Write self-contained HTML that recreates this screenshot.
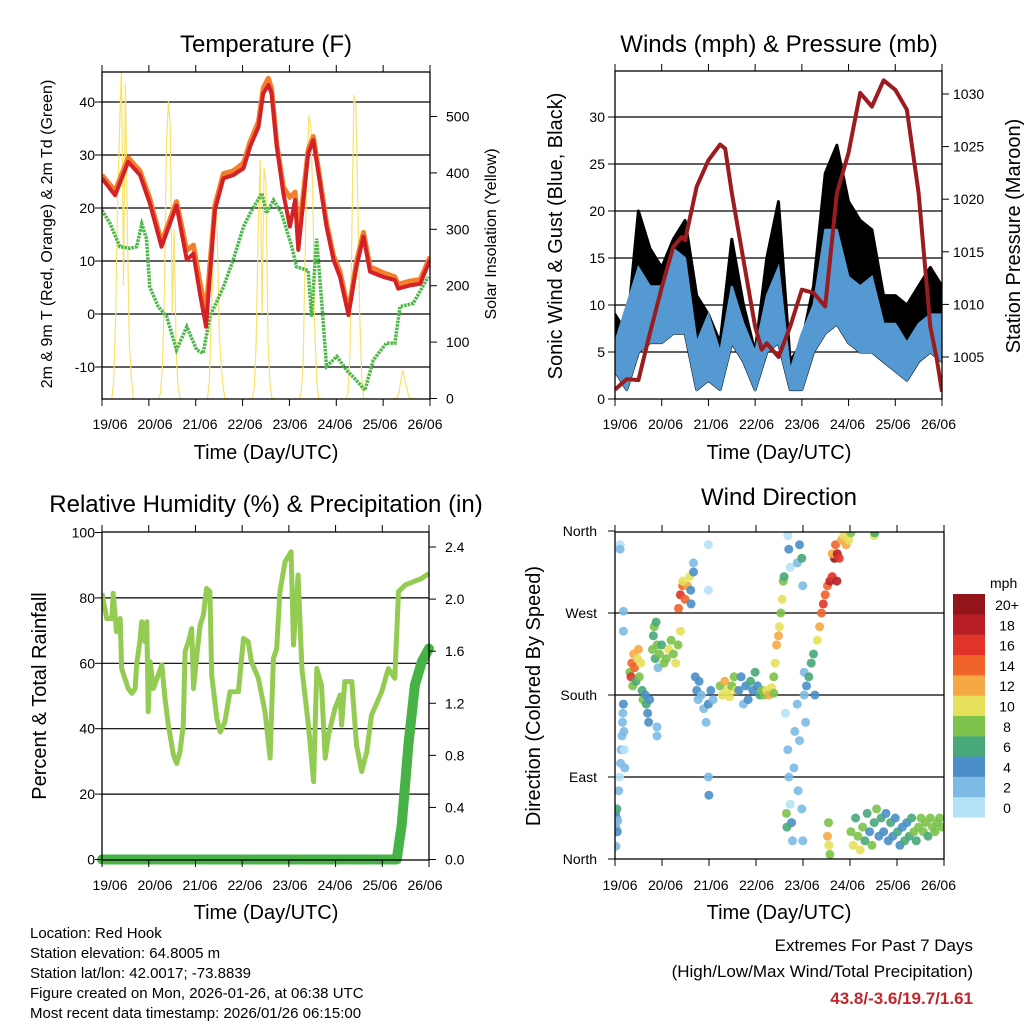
<!DOCTYPE html>
<html><head><meta charset="utf-8"><style>
html,body{margin:0;padding:0;background:#fff}
svg{display:block;font-family:"Liberation Sans",Arial,sans-serif}
</style></head><body>
<svg id="chart" width="1024" height="1024" viewBox="0 0 1024 1024" xmlns="http://www.w3.org/2000/svg">
<defs>
<clipPath id="c1"><rect x="102" y="72" width="328" height="327"/></clipPath>
<clipPath id="c2"><rect x="615" y="71" width="327" height="328"/></clipPath>
<clipPath id="c3"><rect x="102" y="532" width="327" height="328"/></clipPath>
<clipPath id="c4"><rect x="615" y="532" width="329" height="327"/></clipPath>
</defs>
<g id="g1"></g>
<g id="g2"></g>
<g id="g3"></g>
<g id="g4"></g>
<g id="txt" font-size="15" fill="#000">
<text x="30" y="938">Location: Red Hook</text>
<text x="30" y="958">Station elevation: 64.8005 m</text>
<text x="30" y="978">Station lat/lon: 42.0017; -73.8839</text>
<text x="30" y="998">Figure created on Mon, 2026-01-26, at 06:38 UTC</text>
<text x="30" y="1018">Most recent data timestamp: 2026/01/26 06:15:00</text>
<text x="973" y="951" text-anchor="end" font-size="17">Extremes For Past 7 Days</text>
<text x="973" y="977" text-anchor="end" font-size="17">(High/Low/Max Wind/Total Precipitation)</text>
<text x="973" y="1004" text-anchor="end" font-size="17" font-weight="bold" fill="#c0282d">43.8/-3.6/19.7/1.61</text>
</g>
</svg>
<script>
// ---------- DATA ----------
const dayLabels = ["19/06","20/06","21/06","22/06","23/06","24/06","25/06","26/06"];
// Temperature
const tTimes = [0,.28,.56,.81,1.02,1.27,1.59,1.81,1.95,2.09,2.22,2.41,2.59,2.80,3.02,3.16,3.34,3.44,3.55,3.62,3.73,3.87,4.01,4.12,4.19,4.30,4.40,4.51,4.62,4.79,4.94,5.08,5.26,5.43,5.58,5.72,6.00,6.25,6.32,6.57,6.79,7.0];
const temp2m = [25.6,22.4,28.7,26.2,20.9,12.7,20.5,10.2,11.4,3.9,-2.4,19.6,25.6,26.2,27.5,31.6,35.3,41.6,43.2,41.6,31.6,22.8,16.5,21.5,12.1,21.5,30.3,32.8,26.5,16.5,10.2,7.0,-0.2,8.9,14.6,8.0,7.0,6.4,4.8,5.4,5.7,10.2];
const temp9m = [26.2,23.2,29.5,27.0,21.8,13.5,21.2,12.0,13.0,6.0,0.5,20.5,26.5,27.0,28.5,32.5,36.3,42.6,44.5,42.5,32.0,24.0,22.0,23.0,14.0,23.0,31.0,33.5,27.2,17.2,11.0,8.0,0.5,9.8,15.4,8.9,7.8,7.0,5.6,6.2,6.5,10.8];
const tdTimes = [0,.17,.38,.60,.74,.85,.95,1.02,1.20,1.38,1.59,1.81,2.02,2.16,2.30,2.59,2.80,3.02,3.16,3.41,3.51,3.66,3.83,4.05,4.15,4.40,4.47,4.58,4.69,4.79,5.01,5.22,5.43,5.61,5.79,6.07,6.25,6.36,6.64,6.96];
const dewpoint = [19.6,17.1,12.7,12.4,12.7,17.0,14.2,5.1,1.4,-0.5,-6.8,-2.4,-6.8,-7.4,-0.5,5.1,10.2,16.5,19.0,22.8,19.0,21.5,19.0,12.7,8.9,8.2,-0.5,14.2,2.0,-9.9,-8.0,-10.6,-12.5,-14.4,-8.7,-5.5,-5.5,1.4,2.0,7.0];
// Solar, hourly values for hours 5..17 of each day
const solarHours = [5,6,7,8,9,10,11,12,13,14,15,16,17];
const solarDay0 = [0,30,150,350,480,590,200,560,300,100,40,0,0];
const solarDay1 = [0,10,60,200,450,527,480,150,300,80,20,0,0];
const solarDay2 = [0,0,30,150,250,357,300,120,60,20,0,0,0];
const solarDay3 = [0,20,100,300,423,150,410,380,100,30,0,0,0];
const solarDay4 = [0,10,60,250,420,502,480,350,120,30,0,0,0];
const solarDay5 = [0,10,80,300,538,520,350,150,40,0,0,0,0];
const solarDay6 = [0,0,0,10,30,50,35,20,5,0,0,0,0];
// Winds
const windTimes = [0,.25,.5,.75,1,1.25,1.5,1.75,2,2.25,2.5,2.75,3,3.25,3.5,3.75,4,4.25,4.5,4.75,5,5.25,5.5,5.75,6,6.25,6.5,6.75,7];
const gustHigh = [9,7,20,16,14,17,19,11,9,6,17,10,5,15,21,4,6,12,24,27,21,19,18,11,11,10,12,14,12];
const windHigh = [6,10,14,12,12,16,15,6,9,5,12,8,5,11,14,3,7,10,18,18,13,12,13,8,8,6,8,9,9];
const windLow = [3,1,5,6,6,7,7,1,2,1,6,4,1,5,6,1,1,5,7,8,6,5,5,4,3,2,4,5,4];
const presTimes = [0,.25,.5,.75,1,1.25,1.43,1.5,1.75,2,2.25,2.36,2.5,2.75,3,3.14,3.25,3.5,3.75,4,4.25,4.5,4.75,5,5.25,5.5,5.75,6,6.25,6.5,6.75,6.89,7];
const pressure = [1001.9,1002.9,1002.8,1007.3,1011.6,1015.5,1016.4,1016.1,1021.2,1023.7,1025.2,1024.8,1020.6,1014.2,1007.9,1005.7,1006.3,1005.0,1007.9,1011.4,1011.1,1009.8,1020.6,1024.4,1030.1,1028.8,1031.3,1030.4,1028.5,1020.6,1007.9,1004.8,1001.7];
// Humidity & precip
const rhTimes = [0,.1,.21,.24,.31,.39,.42,.56,.64,.71,.74,.81,.85,.92,.96,.99,1.03,1.10,1.28,1.35,1.42,1.53,1.60,1.67,1.74,1.78,1.85,1.92,1.96,2.03,2.10,2.17,2.24,2.31,2.35,2.46,2.53,2.63,2.74,2.92,3.03,3.13,3.20,3.35,3.49,3.56,3.60,3.67,3.74,3.81,3.92,4.05,4.10,4.20,4.28,4.42,4.53,4.60,4.70,4.78,4.85,4.99,5.10,5.13,5.20,5.35,5.45,5.56,5.67,5.77,5.99,6.13,6.27,6.35,6.49,6.85,7.0];
const rhValues = [81.4,73.7,73.7,81.4,69.7,73.7,58.4,52.3,50.8,52.3,59.5,66.6,72.7,66.6,72.7,45.2,60.5,52.3,59.5,49.3,41.1,31.9,29.4,33.0,41.1,63.6,66.6,70.6,52.3,62.5,71.6,74.7,82.9,81.9,56.4,43.0,39.0,42.0,51.3,51.3,67.6,66.6,60.5,55.4,45.2,36.1,31.0,61.5,64.5,81.9,91.1,94.1,65.6,87.0,58.4,41.1,23.8,58.4,53.3,31.0,38.1,46.2,50.3,41.1,54.4,54.4,35.0,26.9,33.0,44.2,51.3,58.4,55.4,81.9,83.9,86.0,87.5];
const precipTimes = [0,6.31,6.42,6.56,6.70,6.85,7.0];
const precipValues = [0,0,0.27,0.88,1.34,1.52,1.62];
// Wind direction scatter
const dirTimes = [0,.01,.02,.03,.04,.05,.06,.02,.08,.1,.12,.13,.15,.16,.17,.18,.19,.2,.21,.11,.11,.32,.34,.36,.38,.4,.42,.45,.48,.5,.52,.55,.58,.6,.18,.18,.65,.67,.7,.72,.74,.8,.82,.84,.86,.88,.9,.92,.9,.9,.95,1.0,1.05,1.1,1.15,1.2,1.25,1.3,1.35,1.4,1.36,1.4,1.45,1.5,1.55,1.6,1.62,1.63,1.45,1.68,1.68,1.72,1.75,1.78,1.8,1.85,1.9,1.95,2.0,2.05,2.1,2.0,2.01,2.0,2.0,2.25,2.3,2.35,2.4,2.45,2.5,2.55,2.6,2.65,2.7,2.75,2.8,2.85,2.9,2.95,3.0,3.05,3.1,3.15,3.2,3.25,3.3,3.35,3.4,3.4,3.43,3.46,3.5,3.52,3.55,3.58,3.6,3.62,3.65,3.7,3.72,3.75,3.78,3.8,3.83,3.85,3.9,3.92,3.95,4.0,4.02,4.05,4.08,3.68,3.67,3.7,3.72,3.75,3.9,3.95,4.0,4.02,4.05,4.1,4.15,4.2,4.25,4.28,4.33,4.38,4.42,4.46,4.5,4.55,4.6,4.65,4.7,4.75,4.65,4.72,4.76,4.8,4.85,4.9,4.95,5.0,5.05,5.55,5.56,4.55,4.57,4.58,4.6,5.05,5.1,5.15,5.2,5.25,5.3,5.35,5.4,5.45,5.5,5.55,5.6,5.65,5.7,5.75,5.8,5.85,5.9,5.95,6.0,6.05,6.1,6.15,6.2,6.25,6.3,6.35,6.4,6.45,6.5,6.55,6.6,6.65,6.7,6.75,6.8,6.85,6.9,6.95,7.0];
const dirDegrees = [40,50,35,45,55,30,42,14,75,90,105,120,135,150,160,170,140,120,100,345,340,205,200,215,190,225,210,195,220,230,200,215,185,175,272,250,180,170,160,150,175,230,245,255,220,260,235,210,145,135,225,235,215,220,230,240,225,215,235,250,275,290,300,285,300,310,295,280,305,315,325,200,185,175,195,180,165,150,170,185,175,90,70,295,345,190,180,195,185,178,190,200,185,185,200,170,190,175,195,185,205,190,180,185,180,185,180,188,182,200,215,235,245,255,270,285,305,310,160,120,90,60,40,20,100,140,170,75,130,55,20,180,150,35,50,355,340,320,325,345,330,300,205,190,200,215,225,180,240,255,270,280,290,300,305,310,330,305,335,345,335,330,350,355,345,350,358,355,358,25,40,15,5,30,15,45,25,10,35,20,50,30,15,40,55,25,45,30,50,20,40,25,45,30,15,35,20,40,25,45,30,20,35,45,30,40,25,45,35,30,40,45,35];
const dirSpeeds = [4,4,3,4,6,4,3,3,2,1,2,2,3,2,3,4,3,1,2,1,2,9,16,14,8,12,15,6,10,12,8,10,6,8,3,2,4,6,4,4,5,8,6,8,6,7,9,3,2,2,8,7,9,8,10,9,8,10,9,10,14,16,14,15,12,10,4,4,10,4,3,4,4,2,4,2,2,2,4,4,2,2,4,1,1,8,11,12,10,11,9,8,10,4,4,3,4,4,6,4,6,4,6,8,8,10,12,10,8,8,10,12,12,10,8,10,8,6,1,2,3,1,4,2,2,2,2,3,2,2,3,3,2,6,8,1,4,1,2,4,6,2,2,5,6,7,6,5,10,12,14,16,14,15,18,17,20,18,12,15,18,16,12,10,12,10,9,10,6,12,9,10,8,8,10,6,9,10,8,6,6,4,8,6,8,4,6,4,4,4,6,4,4,6,4,4,6,4,6,6,8,6,8,8,8,8,6,8,8,8,8,8,8,8];
const speedLabels = ["0","2","4","6","8","10","12","14","16","18","20+"];
const speedColors = ["#b5e2f7","#7dbae4","#4a8fc8","#48a878","#7cc24b","#e7e05a","#f6a844","#f0632b","#e0342b","#b91d25","#911519"];

// ---------- HELPERS ----------
const NS = "http://www.w3.org/2000/svg";
function el(parent, tag, attrs, text){
  const e = document.createElementNS(NS, tag);
  for (const k in attrs) e.setAttribute(k, attrs[k]);
  if (text !== undefined) e.textContent = text;
  parent.appendChild(e);
  return e;
}
function pathFrom(xs, ys, fx, fy){
  let d = "";
  for (let i=0;i<xs.length;i++) d += (i?"L":"M") + fx(xs[i]).toFixed(1) + "," + fy(ys[i]).toFixed(1);
  return d;
}
function frame(g, x0, y0, x1, y1, name){
  const r = el(g, "rect", {x:x0, y:y0, width:x1-x0, height:y1-y0, fill:"none", stroke:"#000", "stroke-width":1.3});
  
  
}
function hgrid(g, x0, x1, y){
  const l = el(g, "line", {x1:x0, x2:x1, y1:y, y2:y, stroke:"#000", "stroke-width":1.2});
  
  
}
function xaxis(g, x0, w, y0, y1, labelStart, labelStep, ly){
  for (let i=0;i<8;i++){
    const x = x0 + i*w/7;
    el(g, "line", {x1:x, x2:x, y1:y1, y2:y1+7, stroke:"#000", "stroke-width":1});
    el(g, "line", {x1:x, x2:x, y1:y0-7, y2:y0, stroke:"#000", "stroke-width":1});
    const t = el(g, "text", {x:labelStart+i*labelStep, y:ly, "text-anchor":"middle", "font-size":14}, dayLabels[i]);
    
    
  }
}
function ylabels(g, vals, fy, x, anchor, fmt, tickX, tickDir){
  vals.forEach(v=>{
    const y = fy(v);
    el(g, "line", {x1:tickX, x2:tickX+tickDir*7, y1:y, y2:y, stroke:"#000", "stroke-width":1});
    const t = el(g, "text", {x:x, y:y+5, "text-anchor":anchor, "font-size":14}, fmt(v));
    
    
  });
}
function title(g, x, y, s, size, name, rot){
  const a = {x:x, y:y, "text-anchor":"middle", "font-size":size};
  if (rot) a.transform = "rotate(-90 "+x+" "+y+")";
  const t = el(g, "text", a, s);
  
  
}

// ---------- PANEL 1 ----------
(function(){
  const g = document.getElementById("g1");
  const fx = d => 102 + d*46.86, fT = v => 314 - v*5.3, fS = v => 398.5 - v*0.564;
  [40,30,20,10,0,-10].forEach(v=>hgrid(g,102,430,fT(v)));
  const c = el(g, "g", {"clip-path":"url(#c1)"});
  const solarDays = [solarDay0,solarDay1,solarDay2,solarDay3,solarDay4,solarDay5,solarDay6];
  solarDays.forEach((arr,di)=>{
    const ts = solarHours.map(h=>di + h/24);
    const p = el(c, "path", {d:pathFrom(ts, arr, fx, fS), fill:"none", stroke:"#f7e36a", "stroke-width":1.2});
    
    
  });
  const pd = el(c, "path", {d:pathFrom(tdTimes, dewpoint, fx, fT), fill:"none", stroke:"#4cb848", "stroke-width":3.5, "stroke-dasharray":"2.5 1"});
  
  
  const po = el(c, "path", {d:pathFrom(tTimes, temp9m, fx, fT), fill:"none", stroke:"#f47f2a", "stroke-width":5, "stroke-linejoin":"round"});
  
  
  const pr = el(c, "path", {d:pathFrom(tTimes, temp2m, fx, fT), fill:"none", stroke:"#d42027", "stroke-width":4, "stroke-linejoin":"round"});
  
  
  frame(g,102,72,430,399,'temperature-plot-frame');
  xaxis(g,102,328,72,399,110,45,429);
  ylabels(g,[40,30,20,10,0,-10],fT,95,"end",v=>String(v),102,-1);
  ylabels(g,[0,100,200,300,400,500],fS,446,"start",v=>String(v),430,1);
  title(g,266,52,"Temperature (F)",24,"temperature-title");
  title(g,266,459,"Time (Day/UTC)",20,"temperature-x-title");
  title(g,52,234,"2m & 9m T (Red, Orange) & 2m Td (Green)",16,"temperature-y-title",true);
  title(g,496,234,"Solar Insolation (Yellow)",16,"solar-y-title",true);
})();

// ---------- PANEL 2 ----------
(function(){
  const g = document.getElementById("g2");
  const fx = d => 615 + d*46.71, fW = v => 399 - v*9.4, fP = v => 357 - (v-1005)*10.52;
  [5,10,15,20,25,30].forEach(v=>hgrid(g,615,942,fW(v)));
  const c = el(g, "g", {"clip-path":"url(#c2)"});
  let top = pathFrom(windTimes, gustHigh, fx, fW);
  let bot = ""; for (let i=windTimes.length-1;i>=0;i--) bot += "L"+fx(windTimes[i]).toFixed(1)+","+fW(windLow[i]).toFixed(1);
  const gp = el(c, "path", {d:top+bot+"Z", fill:"#000", stroke:"#000", "stroke-width":3, "stroke-linejoin":"round"});
  
  
  let wt = pathFrom(windTimes, windHigh, fx, fW);
  const wp = el(c, "path", {d:wt+bot+"Z", fill:"#5499d2", stroke:"#5499d2", "stroke-width":2});
  
  
  const pp = el(c, "path", {d:pathFrom(presTimes, pressure, fx, fP), fill:"none", stroke:"#9b1c1f", "stroke-width":4, "stroke-linejoin":"round"});
  
  
  frame(g,615,71,942,399,'wind-plot-frame');
  xaxis(g,615,327,71,399,620,45.5,429);
  ylabels(g,[0,5,10,15,20,25,30],fW,605,"end",v=>String(v),615,-1);
  ylabels(g,[1005,1010,1015,1020,1025,1030],fP,953,"start",v=>String(v),942,1);
  title(g,779,52,"Winds (mph) & Pressure (mb)",24,"wind-title");
  title(g,779,459,"Time (Day/UTC)",20,"wind-x-title");
  title(g,562,236,"Sonic Wind & Gust (Blue, Black)",20,"wind-y-title",true);
  title(g,1020,236,"Station Pressure (Maroon)",20,"pressure-y-title",true);
})();

// ---------- PANEL 3 ----------
(function(){
  const g = document.getElementById("g3");
  const fx = d => 102 + d*46.7, fR = v => 859.5 - v*3.27, fPr = v => 859.5 - v*130.2;
  [20,40,60,80].forEach(v=>hgrid(g,102,429,fR(v)));
  const c = el(g, "g", {"clip-path":"url(#c3)"});
  const rp = el(c, "path", {d:pathFrom(rhTimes, rhValues, fx, fR), fill:"none", stroke:"#94cb52", "stroke-width":5, "stroke-linejoin":"round"});
  
  
  const pp = el(g, "path", {d:pathFrom(precipTimes, precipValues, fx, fPr), fill:"none", stroke:"#47b347", "stroke-width":10, "stroke-linecap":"round", "stroke-linejoin":"round"});
  
  
  frame(g,102,532,429,860,'humidity-plot-frame');
  xaxis(g,102,327,532,860,110,45,890);
  ylabels(g,[0,20,40,60,80,100],fR,95,"end",v=>String(v),102,-1);
  ylabels(g,[0,0.4,0.8,1.2,1.6,2.0,2.4],fPr,445,"start",v=>v.toFixed(1),429,1);
  title(g,266,512,"Relative Humidity (%) & Precipitation (in)",24,"humidity-title");
  title(g,266,919,"Time (Day/UTC)",20,"humidity-x-title");
  title(g,46,696,"Percent & Total Rainfall",20,"humidity-y-title",true);
})();

// ---------- PANEL 4 ----------
(function(){
  const g = document.getElementById("g4");
  const fx = d => 615 + d*46.71, fD = v => 859 - v*0.9111;
  [90,180,270].forEach(v=>hgrid(g,615,944,fD(v)));
  const c = el(g, "g", {"clip-path":"url(#c4)"});
  for (let i=0;i<dirTimes.length;i++){
    const idx = Math.min(10, Math.floor(dirSpeeds[i]/2));
    const p = el(c, "circle", {cx:fx(dirTimes[i]).toFixed(1), cy:fD(dirDegrees[i]).toFixed(1), r:4.5, fill:speedColors[idx], "fill-opacity":0.9});
    
    
  }
  frame(g,615,532,944,859,'direction-plot-frame');
  xaxis(g,615,329,532,859,620,45.5,890);
  const dirNames = ["North","East","South","West","North"];
  [0,90,180,270,360].forEach((v,i)=>{
    const y = fD(v);
    el(g,"line",{x1:615,x2:608,y1:y,y2:y,stroke:"#000"});
    const t = el(g,"text",{x:597,y:y+5,"text-anchor":"end","font-size":14},dirNames[i]);
    
    
  });
  title(g,779,505,"Wind Direction",24,"direction-title");
  title(g,779,919,"Time (Day/UTC)",20,"direction-x-title");
  title(g,540,696,"Direction (Colored By Speed)",20,"direction-y-title",true);
  // colorbar
  const cb = el(g,"g",{});
  
  
  const ct = el(cb,"text",{x:990,y:588,"font-size":14},"mph");
  
  
  for (let i=0;i<11;i++){
    const y = 594 + (10-i)*20.3;
    const r = el(cb,"rect",{x:953,y:y,width:32,height:20.5,fill:speedColors[i]});
    
    
    const t = el(cb,"text",{x:1007,y:y+16,"text-anchor":"middle","font-size":14},speedLabels[i]);
    
    
  }
})();
</script>
</body></html>
